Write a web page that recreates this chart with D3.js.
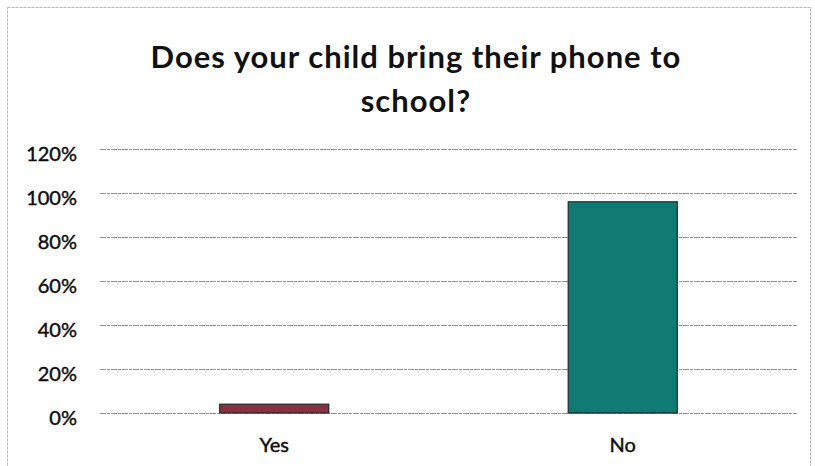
<!DOCTYPE html>
<html>
<head>
<meta charset="utf-8">
<script src="https://cdn.jsdelivr.net/npm/d3@7"></script>
<style>
  html, body { margin: 0; padding: 0; background: #ffffff; }
  svg { display: block; }
  text { font-family: Lato, "Open Sans", sans-serif; fill: #111111; }
</style>
</head>
<body>
<svg id="chart" width="815" height="466"></svg>
<script>
// Survey answers and their share of responses
const categories = ["Yes", "No"];
const shares = [0.04, 0.96];
const barColors = ["#8c2f3f", "#0e7a72"];
const tickValues = [0, 0.2, 0.4, 0.6, 0.8, 1.0, 1.2];
const titleLines = ["Does your child bring their phone to", "school?"];

const svg = d3.select("#chart");
const plot = { left: 100, right: 797, top: 149, bottom: 413 };

// Outer chart frame
svg.append("rect")
  .attr("x", 7.5).attr("y", 7.5)
  .attr("width", 803).attr("height", 470)
  .attr("fill", "none")
  .attr("stroke", "#b4b4b4")
  .attr("stroke-width", 1)
  .attr("stroke-dasharray", "3,1");

// Title
svg.append("g").selectAll("text")
  .data(titleLines)
  .join("text")
  .attr("x", 416)
  .attr("y", (d, i) => 68 + i * 44)
  .attr("text-anchor", "middle")
  .attr("font-size", 31)
  .attr("font-weight", "bold")
  .attr("letter-spacing", 1)
  .attr("fill", "#141414")
  .text(d => d);

const x = d3.scaleBand()
  .domain(categories)
  .range([plot.left, plot.right])
  .paddingInner(0.687)
  .paddingOuter(0.3435);

const y = d3.scaleLinear()
  .domain([0, 1.2])
  .range([plot.bottom, plot.top]);

// Horizontal gridlines via the y axis
const yAxis = d3.axisLeft(y)
  .tickValues(tickValues)
  .tickFormat(d3.format(".0%"))
  .tickSize(-(plot.right - plot.left))
  .tickPadding(23);

const gy = svg.append("g")
  .attr("transform", `translate(${plot.left},0)`)
  .call(yAxis);
gy.select(".domain").remove();
gy.selectAll(".tick line")
  .attr("stroke", "#939393")
  .attr("stroke-width", 1)
  .attr("stroke-dasharray", "6,1,3,1");
gy.selectAll(".tick text")
  .attr("font-size", 20)
  .attr("font-weight", "normal")
  .attr("fill", "#000000")
  .attr("stroke", "#000000")
  .attr("stroke-width", 0.4)
  .attr("dy", "0.58em")
  .style("font-family", "Lato, 'Open Sans', sans-serif");

// Bars
svg.append("g").selectAll("rect")
  .data(categories)
  .join("rect")
  .attr("x", d => x(d))
  .attr("width", x.bandwidth())
  .attr("y", (d, i) => y(shares[i]))
  .attr("height", (d, i) => y(0) - y(shares[i]))
  .attr("fill", (d, i) => barColors[i])
  .attr("stroke", "#1f2b2b")
  .attr("stroke-width", 1.2);

// Category labels
const xAxis = d3.axisBottom(x).tickSize(0).tickPadding(25);
const gx = svg.append("g")
  .attr("transform", `translate(0,${plot.bottom})`)
  .call(xAxis);
gx.select(".domain").remove();
gx.selectAll(".tick text")
  .attr("font-size", 20)
  .attr("font-weight", "normal")
  .attr("fill", "#000000")
  .attr("stroke", "#000000")
  .attr("stroke-width", 0.4)
  .style("font-family", "Lato, 'Open Sans', sans-serif");
</script>
</body>
</html>
